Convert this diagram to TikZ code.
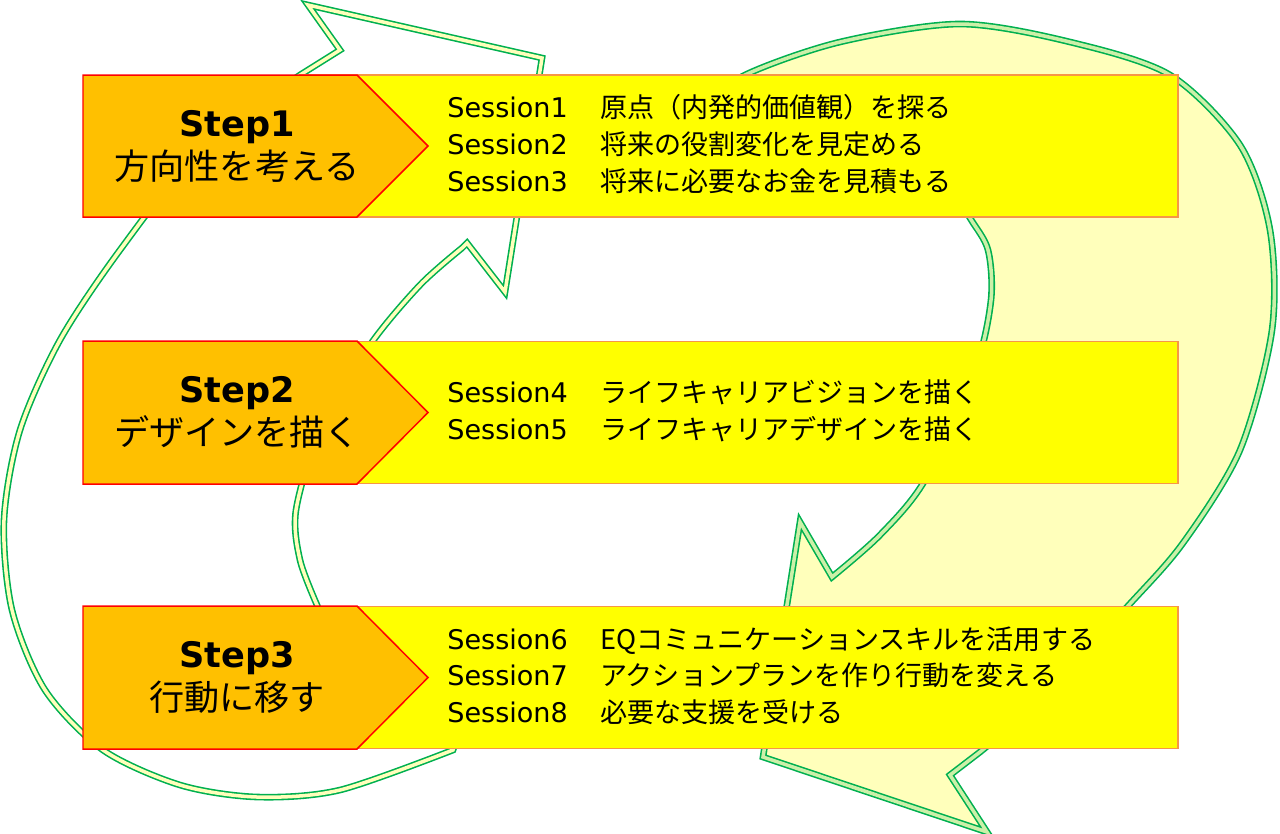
\documentclass[tikz,border=0pt]{standalone}
\usepackage{fontspec}
\setmainfont{DejaVu Sans}
\newfontfamily\jpfont{Noto Sans CJK JP}
\usepackage{array}
\usepackage{xcolor}
\definecolor{stepfill}{HTML}{FFC000}
\definecolor{sessfill}{HTML}{FFFF00}
\definecolor{sessline}{HTML}{F79646}
\definecolor{loopgreen}{HTML}{00B050}
\definecolor{looppale}{HTML}{FFFFBB}
\definecolor{loopmint}{HTML}{CCF0A8}

\begin{document}
\begin{tikzpicture}[x=0.02cm,y=-0.02cm,
  loopL/.style={draw=loopgreen,line width=0.9pt,double=looppale,double distance=2pt},
  loopR/.style={draw=loopgreen,line width=0.9pt,double=loopmint,double distance=2pt,fill=looppale},
  sessbox/.style={draw=sessline,fill=sessfill,line width=1.1pt,inner sep=0pt,
    minimum width=17.56cm,minimum height=2.84cm},
  stepshape/.style={draw=red,fill=stepfill,line width=0.85pt},
  steplbl/.style={align=center,font=\fontsize{20}{24.5}\selectfont},
  sesslbl/.style={anchor=west,inner sep=0pt,font=\fontsize{15.4}{21}\selectfont}]
  \useasboundingbox (0,0) rectangle (1280,833);
  % ---- loop on the left (back up to step 1) ----
  \draw[loopL] (340,50) -- plot[smooth] coordinates {(300,75) (200,150) (120,250) (60,340)
      (20,430) (4,520) (12,610) (45,690) (103,750) (180,785) (257,797) (340,790)
      (453,750)}
    -- (470,700) -- (330,640)
    -- plot[smooth] coordinates {(317,605) (300,560) (296,510) (320,430) (370,345)
      (420,285) (462,248)}
    -- (467,243) -- (505,292) -- (542,58) -- (308,5) -- cycle;
  % ---- big arrow on the right (down to step 3) ----
  \draw[loopR] plot[smooth] coordinates {(700,110) (745,75) (840,42) (960,24)
      (1070,42) (1170,75) (1240,145) (1270,230) (1272,330) (1240,450) (1183,543)
      (1127,607) (1040,700) (980,752)}
    -- (950,775) -- (987,832) -- (763,757) -- (800,522)
    -- plot[smooth] coordinates {(832,577) (880,535) (925,480) (975,370) (991,300)
      (988,250) (970,218) (940,170)}
    -- cycle;
  % ---- step 1 ----
  \node[sessbox] (sess1) at (739,146) {};
  \draw[stepshape] (83,75) -- (357,75) -- (428,146) -- (357,217) -- (83,217) -- cycle;
  \node[steplbl] (step1) at (237,146) {\textbf{Step1}\\{\jpfont 方向性を考える}};
  \node[sesslbl] (list1) at (447,147) {\begin{tabular}{@{}p{87pt}@{}>{\jpfont}l@{}}
    Session1 & 原点（内発的価値観）を探る\\
    Session2 & 将来の役割変化を見定める\\
    Session3 & 将来に必要なお金を見積もる
  \end{tabular}};
  % ---- step 2 ----
  \node[sessbox] (sess2) at (739,412.5) {};
  \draw[stepshape] (83,341) -- (357,341) -- (428,412.5) -- (357,484) -- (83,484) -- cycle;
  \node[steplbl] (step2) at (237,412.5) {\textbf{Step2}\\{\jpfont デザインを描く}};
  \node[sesslbl] (list2) at (447,413.5) {\begin{tabular}{@{}p{87pt}@{}>{\jpfont}l@{}}
    Session4 & ライフキャリアビジョンを描く\\
    Session5 & ライフキャリアデザインを描く
  \end{tabular}};
  % ---- step 3 ----
  \node[sessbox] (sess3) at (739,677.5) {};
  \draw[stepshape] (83,606) -- (357,606) -- (428,677.5) -- (357,749) -- (83,749) -- cycle;
  \node[steplbl] (step3) at (237,677.5) {\textbf{Step3}\\{\jpfont 行動に移す}};
  \node[sesslbl] (list3) at (447,678.5) {\begin{tabular}{@{}p{87pt}@{}>{\jpfont}l@{}}
    Session6 & EQコミュニケーションスキルを活用する\\
    Session7 & アクションプランを作り行動を変える\\
    Session8 & 必要な支援を受ける
  \end{tabular}};
\end{tikzpicture}
\end{document}
